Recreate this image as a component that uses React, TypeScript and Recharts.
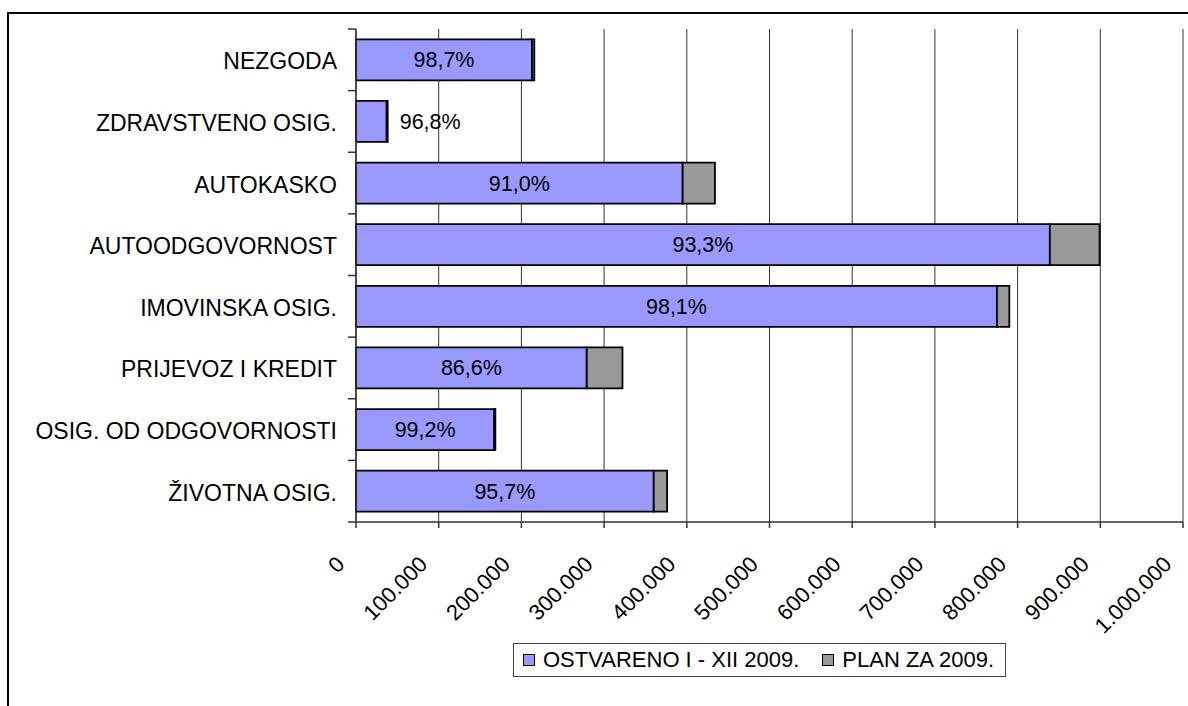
import React from 'react';
import { BarChart, Bar, XAxis, YAxis, CartesianGrid, Legend, LabelList } from 'recharts';

const categories = [
  'NEZGODA',
  'ZDRAVSTVENO OSIG.',
  'AUTOKASKO',
  'AUTOODGOVORNOST',
  'IMOVINSKA OSIG.',
  'PRIJEVOZ I KREDIT',
  'OSIG. OD ODGOVORNOSTI',
  'ŽIVOTNA OSIG.',
];
const ostvareno = [212800, 37100, 395000, 839000, 775000, 279000, 167200, 360000];
const plan = [215600, 38300, 434000, 899200, 790000, 322200, 168500, 376200];
const percentLabels = ['98,7%', '96,8%', '91,0%', '93,3%', '98,1%', '86,6%', '99,2%', '95,7%'];
const xTicks = [0, 100000, 200000, 300000, 400000, 500000, 600000, 700000, 800000, 900000, 1000000];
const seriesNames = ['OSTVARENO I - XII 2009.', 'PLAN ZA 2009.'];
const seriesColors = ['#9999FF', '#999999'];

const FONT = '"Liberation Sans", Arial, sans-serif';

const data = categories.map((name, i) => ({
  name,
  ost: ostvareno[i],
  diff: plan[i] - ostvareno[i],
  plan: plan[i],
  pct: percentLabels[i],
}));

const fmt = (v: number) => String(v).replace(/\B(?=(\d{3})+(?!\d))/g, '.');

const YTick = (props: any) => {
  const { x, y, payload, index } = props;
  const axisX = x + 19;
  const half = payload && typeof payload.offset === 'number' && payload.offset > 0 ? payload.offset : 30.8;
  return (
    <g>
      <text x={x} y={y} dy={9.5} textAnchor="end" fontSize={23} fontFamily={FONT} fill="#000">
        {payload.value}
      </text>
      <line x1={axisX - 8} x2={axisX} y1={y - half} y2={y - half} stroke="#333" strokeWidth={1.5} />
      {index === categories.length - 1 ? (
        <line x1={axisX - 8} x2={axisX} y1={y + half} y2={y + half} stroke="#333" strokeWidth={1.5} />
      ) : null}
    </g>
  );
};

const XTick = (props: any) => {
  const { x, y, payload } = props;
  const ax = x - 10;
  const ay = y + 37.5;
  return (
    <text
      x={ax}
      y={ay}
      textAnchor="end"
      transform={`rotate(-45, ${ax}, ${ay})`}
      fontSize={22}
      fontFamily={FONT}
      fill="#000"
    >
      {fmt(payload.value)}
    </text>
  );
};

const renderPct = (props: any) => {
  const { x, y, width, height, index } = props;
  const d = data[index];
  if (!d) return null;
  const cy = y + height / 2 + 7.5;
  if (width > 80) {
    return (
      <text x={x + width / 2} y={cy} textAnchor="middle" fontSize={21.5} fontFamily={FONT} fill="#000">
        {d.pct}
      </text>
    );
  }
  const planEnd = x + (width * d.plan) / d.ost;
  return (
    <text x={planEnd + 12} y={cy} textAnchor="start" fontSize={21.5} fontFamily={FONT} fill="#000">
      {d.pct}
    </text>
  );
};

const LegendContent = () => (
  <div
    style={{
      border: '1px solid #444',
      boxSizing: 'border-box',
      width: 493,
      height: 34,
      display: 'flex',
      alignItems: 'center',
      paddingLeft: 9,
      fontFamily: FONT,
      fontSize: 22,
      color: '#000',
      background: '#fff',
      whiteSpace: 'nowrap',
    }}
  >
    {seriesNames.map((n, i) => (
      <span key={n} style={{ display: 'flex', alignItems: 'center', marginRight: i === 0 ? 23 : 0 }}>
        <span
          style={{
            display: 'inline-block',
            width: 12,
            height: 12,
            boxSizing: 'border-box',
            background: seriesColors[i],
            border: '1.5px solid #000',
            marginRight: 8,
          }}
        />
        <span>{n}</span>
      </span>
    ))}
  </div>
);

export default function App() {
  return (
    <div
      style={{
        position: 'absolute',
        left: 7,
        top: 12,
        width: 1181,
        height: 694,
        boxSizing: 'border-box',
        borderLeft: '2px solid #000',
        borderTop: '2px solid #000',
        background: '#fff',
        overflow: 'hidden',
      }}
    >
      <BarChart
        width={1179}
        height={692}
        data={data}
        layout="vertical"
        margin={{ top: 15, right: 5, left: 0, bottom: 0 }}
        barCategoryGap="16.7%"
      >
        <CartesianGrid horizontal={false} vertical={true} stroke="#333" strokeWidth={1} />
        <XAxis
          type="number"
          domain={[0, 1000000]}
          ticks={xTicks}
          interval={0}
          tick={<XTick />}
          tickSize={6}
          tickMargin={0}
          tickLine={{ stroke: '#333', strokeWidth: 1.5 }}
          axisLine={{ stroke: '#333', strokeWidth: 1.5 }}
          height={184}
        />
        <XAxis
          xAxisId="top"
          orientation="top"
          type="number"
          domain={[0, 1000000]}
          ticks={xTicks}
          tick={false}
          tickLine={false}
          axisLine={{ stroke: '#999', strokeWidth: 2 }}
          height={0}
        />
        <YAxis
          type="category"
          dataKey="name"
          width={347}
          interval={0}
          tick={<YTick />}
          tickSize={8}
          tickMargin={11}
          tickLine={false}
          axisLine={{ stroke: '#333', strokeWidth: 1.5 }}
        />
        <YAxis
          yAxisId="right"
          orientation="right"
          type="category"
          dataKey="name"
          width={0}
          tick={false}
          tickLine={false}
          axisLine={{ stroke: '#999', strokeWidth: 2 }}
        />
        <Legend
          layout="horizontal"
          verticalAlign="middle"
          align="center"
          content={<LegendContent />}
          wrapperStyle={{ left: 504, top: 629, width: 493, height: 34 }}
        />
        <Bar
          dataKey="ost"
          name={seriesNames[0]}
          stackId="a"
          fill={seriesColors[0]}
          stroke="#000"
          strokeWidth={1.8}
          isAnimationActive={false}
        >
          <LabelList dataKey="pct" content={renderPct} />
        </Bar>
        <Bar
          dataKey="diff"
          name={seriesNames[1]}
          stackId="a"
          fill={seriesColors[1]}
          stroke="#000"
          strokeWidth={1.8}
          isAnimationActive={false}
        />
      </BarChart>
    </div>
  );
}
